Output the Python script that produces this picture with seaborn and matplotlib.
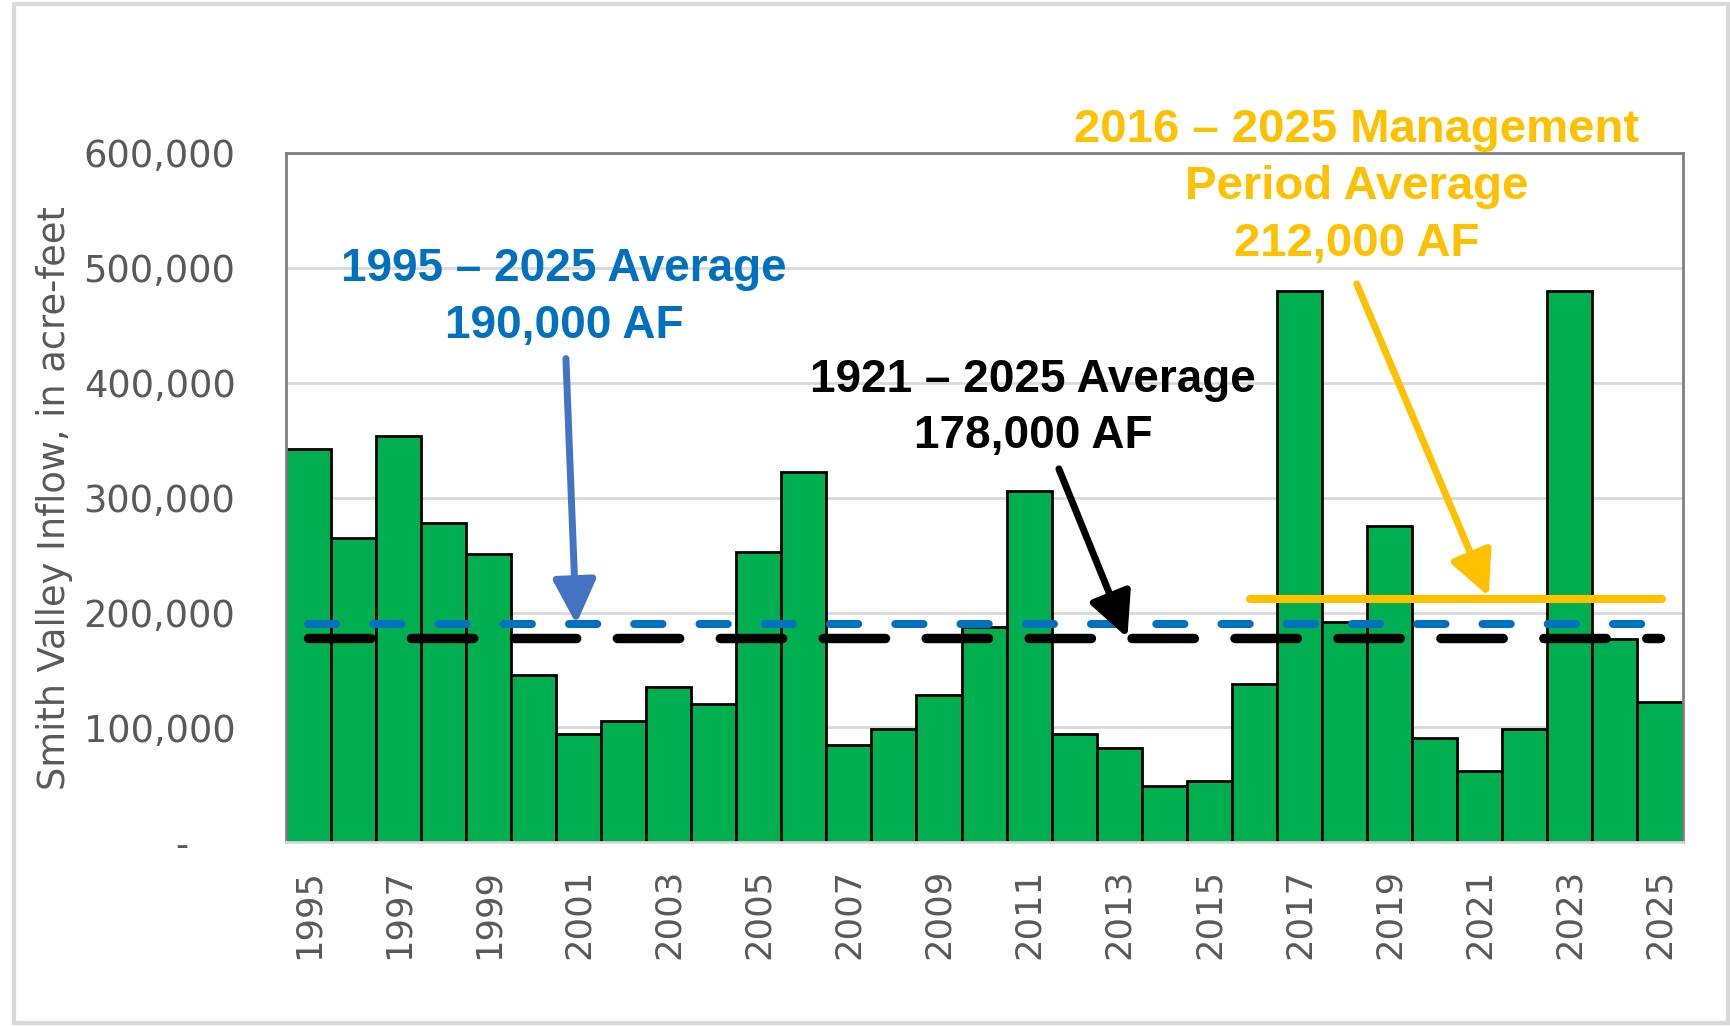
import numpy as np
import pandas as pd
import seaborn as sns
import matplotlib.pyplot as plt
from matplotlib.patches import Rectangle
from matplotlib.ticker import FuncFormatter

# annual inflow, acre-feet
years = list(range(1995, 2026))
inflow = [342000, 265000, 354000, 278000, 251000, 146000, 94000, 106000, 135000, 120000,
          253000, 322000, 85000, 99000, 128000, 187000, 306000, 94000, 82000, 49000,
          53000, 138000, 480000, 192000, 275000, 91000, 62000, 99000, 480000, 177000,
          122000]

avg_1995_2025 = 190000
avg_1921_2025 = 178000
avg_mgmt = 212000
mgmt_start, mgmt_end = 2016, 2025

blue_txt = "1995 \u2013 2025 Average\n190,000 AF"
black_txt = "1921 \u2013 2025 Average\n178,000 AF"
orange_txt = "2016 \u2013 2025 Management\nPeriod Average\n212,000 AF"

df = pd.DataFrame({"year": [str(y) for y in years], "inflow": inflow})

sns.set_theme(style="white")
plt.rcParams['font.family'] = ['DejaVu Sans']

fig = plt.figure(figsize=(17.31, 10.26), dpi=100)
ax = fig.add_axes([0.165, 0.179, 0.807, 0.672])

sns.barplot(data=df, x="year", y="inflow", color="#00B050", saturation=1,
            edgecolor="black", linewidth=2.0, width=1.0, ax=ax, zorder=2)

n = len(years)
ax.set_xlim(-0.5, n - 0.5)
ax.set_ylim(0, 600000)
ax.set_yticks(np.arange(0, 600001, 100000))
ax.yaxis.set_major_formatter(FuncFormatter(lambda v, p: "-    " if v == 0 else f"{int(v):,}"))
ax.set_xticks(range(0, n, 2))
ax.set_xticklabels([str(y) for y in years[::2]], rotation=90)
ax.grid(axis="y", color="#D9D9D9", linewidth=2, zorder=0)
ax.set_axisbelow(True)

ax.tick_params(axis="y", length=0, pad=36, labelsize=26.5, labelcolor="#595959")
ax.tick_params(axis="x", length=0, pad=19, labelsize=25.5, labelcolor="#595959")
ax.set_xlabel("")
ax.set_ylabel("Smith Valley Inflow, in acre-feet", fontsize=26.5, color="#595959", labelpad=8)

for side in ["left", "top", "right"]:
    ax.spines[side].set_color("#7F7F7F")
    ax.spines[side].set_linewidth(2)
ax.spines["bottom"].set_color("#D9D9D9")
ax.spines["bottom"].set_linewidth(2)

# average lines
ax.plot([0, n - 1], [avg_1995_2025] * 2, color="#0070C0", lw=5.8,
        linestyle=(0, (3.5, 4.6)), dash_capstyle="round", zorder=4)
ax.plot([0, n - 1], [avg_1921_2025] * 2, color="black", lw=6.8,
        linestyle=(0, (6.6, 4.3)), dash_capstyle="round", zorder=3)
i0 = years.index(mgmt_start)
i1 = years.index(mgmt_end)
ax.plot([i0 - 0.1, i1 + 0.05], [avg_mgmt] * 2, color="#FFC000", lw=5.8,
        solid_capstyle="round", zorder=5)

bold = dict(fontsize=33, fontweight="bold", family=["Liberation Sans", "DejaVu Sans"],
            ha="center", va="center", linespacing=1.38, zorder=6)

ax.text(5.68, 474000, blue_txt, color="#0070C0", **bold)
ax.text(16.09, 378000, black_txt, color="black", **bold)
ax.text(23.27, 570000, orange_txt, color="#FFC000", clip_on=False,
        **{**bold, "fontsize": 34})

arrow = "-|>,head_length=0.45,head_width=0.22"
ax.annotate("", xy=(5.95, avg_1995_2025), xytext=(5.72, 421000),
            arrowprops=dict(arrowstyle=arrow, color="#4472C4", lw=5,
                            mutation_scale=60, shrinkA=0, shrinkB=0), zorder=6)
ax.annotate("", xy=(18.18, avg_1921_2025), xytext=(16.66, 325000),
            arrowprops=dict(arrowstyle=arrow, color="black", lw=5,
                            mutation_scale=60, shrinkA=0, shrinkB=0), zorder=6)
ax.annotate("", xy=(26.2, avg_mgmt + 2000), xytext=(23.27, 486000),
            arrowprops=dict(arrowstyle=arrow, color="#FFC000", lw=5,
                            mutation_scale=60, shrinkA=0, shrinkB=0), zorder=6)

fig.patches.append(Rectangle((0.008, 0.003), 0.99, 0.993, transform=fig.transFigure,
                             fill=False, edgecolor="#D9D9D9", linewidth=3))

fig.savefig("out.png", dpi=100)
